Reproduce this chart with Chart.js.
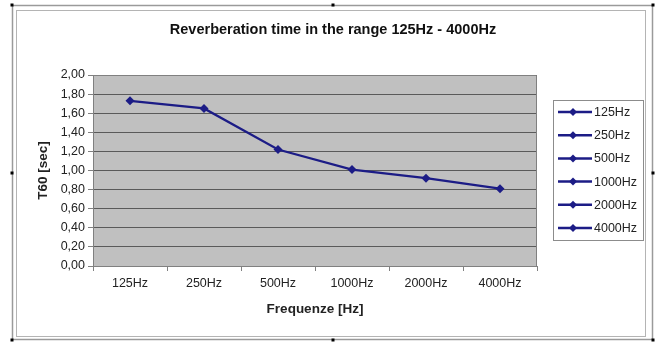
<!DOCTYPE html>
<html>
<head>
<meta charset="utf-8">
<script src="https://cdn.jsdelivr.net/npm/chart.js@4.4.1/dist/chart.umd.min.js"></script>
<style>
html,body{margin:0;padding:0;background:#fff;}
canvas{display:block;}
</style>
</head>
<body>
<canvas id="chart" width="659" height="342"></canvas>
<script>
// ---------- DATA ----------
const bands = ["125Hz","250Hz","500Hz","1000Hz","2000Hz","4000Hz"];
const t60 = [1.73,1.65,1.22,1.01,0.92,0.81];
const yTicks = [0,0.2,0.4,0.6,0.8,1.0,1.2,1.4,1.6,1.8,2.0];

const lineColor = "#1c1c86";
const fontFamily = "'Liberation Sans', Arial, sans-serif";

// ---------- FRAME + PLOT BACKGROUND ----------
const framePlugin = {
id:"frame",
beforeDraw(chart){
const c = chart.ctx;
c.save();
c.fillStyle="#fff";
c.fillRect(0,0,chart.width,chart.height);
// outer selection border
c.strokeStyle="#9a9a9a";
c.lineWidth=1.5;
c.strokeRect(12.5,5.5,640,334);
// chart border
c.strokeStyle="#b4b4b4";
c.lineWidth=1;
c.strokeRect(16.5,10.5,629,326);
// selection handles
c.fillStyle="#000";
[[12,5],[333,5],[653,5],[12,173],[653,173],[12,340],[333,340],[653,340]].forEach(p=>{
c.fillRect(p[0]-1.5,p[1]-1.5,3,3);
});
const a = chart.chartArea;
c.fillStyle="#c0c0c0";
c.fillRect(a.left,a.top,a.right-a.left,a.bottom-a.top);
c.restore();
},
afterDatasetsDraw(chart){
const c = chart.ctx;
const a = chart.chartArea;
c.save();
c.strokeStyle="#808080";
c.lineWidth=1;
c.beginPath();
c.moveTo(a.left,a.top+0.5);
c.lineTo(a.right-0.5,a.top+0.5);
c.lineTo(a.right-0.5,a.bottom);
c.stroke();
c.restore();
}
};

// ---------- LEGEND ----------
const legendPlugin = {
id:"bandLegend",
afterDraw(chart){
const c = chart.ctx;
const x = 553.5, y = 100.5, w = 90, h = 140;
c.save();
c.fillStyle="#fff";
c.fillRect(x,y,w,h);
c.strokeStyle="#8c8c8c";
c.lineWidth=1;
c.strokeRect(x,y,w,h);
c.font="12.5px "+fontFamily;
c.textBaseline="middle";
chart.data.labels.forEach((lab,i)=>{
const ly = 112 + i*23.2;
c.strokeStyle=lineColor;
c.lineWidth=2.5;
c.beginPath();
c.moveTo(558,ly);
c.lineTo(592,ly);
c.stroke();
c.fillStyle=lineColor;
c.beginPath();
c.moveTo(573,ly-4);
c.lineTo(577,ly);
c.lineTo(573,ly+4);
c.lineTo(569,ly);
c.closePath();
c.fill();
c.fillStyle="#222";
c.fillText(lab,594,ly+0.5);
});
c.restore();
}
};

// ---------- CHART ----------
const ctx = document.getElementById("chart").getContext("2d");

const chart = new Chart(ctx,{
type:"line",
data:{
labels:bands,
datasets:[
{
label:"T60",
data:t60,
borderColor:lineColor,
backgroundColor:lineColor,
borderWidth:2.2,
pointStyle:"rectRot",
pointRadius:4.5,
pointBorderWidth:0,
tension:0
}
]
},
options:{
responsive:false,
animation:false,
devicePixelRatio:1,
layout:{padding:{left:32,right:25,top:14,bottom:20}},
plugins:{
legend:{display:false},
tooltip:{enabled:false},
title:{
display:true,
text:"Reverberation time in the range 125Hz - 4000Hz",
color:"#111",
font:{family:fontFamily,size:14.5,weight:"bold"},
padding:{top:7.3,bottom:36.3}
}
},
scales:{
x:{
offset:true,
grid:{display:true,drawOnChartArea:false,offset:true,tickLength:5,tickColor:"#808080"},
border:{display:true,color:"#808080"},
ticks:{color:"#222",padding:5.5,font:{family:fontFamily,size:12.5},maxRotation:0},
title:{display:true,text:"Frequenze [Hz]",color:"#222",font:{family:fontFamily,size:13.5,weight:"bold"},padding:{top:4,bottom:4.9}},
afterFit(s){s.height=342-20-266;}
},
y:{
min:0,
max:2,
afterBuildTicks(s){s.ticks=yTicks.map(v=>({value:v}));},
grid:{color:"#5a5a5a",lineWidth:1,tickLength:5,tickColor:"#808080"},
border:{display:true,color:"#808080"},
ticks:{
color:"#222",
padding:3,
font:{family:fontFamily,size:12.5},
callback:v=>v.toFixed(2).replace(".",",")
},
title:{display:true,text:"T60 [sec]",color:"#222",font:{family:fontFamily,size:13.5,weight:"bold"},padding:{top:3,bottom:3}},
afterFit(s){s.width=93-32;}
},
// empty right-hand axis that keeps the legend column free
side:{
position:"right",
min:0,
max:1,
grid:{display:false},
border:{display:false},
ticks:{display:false},
afterFit(s){s.width=634-537;}
}
}
},
plugins:[framePlugin,legendPlugin]
});
</script>
</body>
</html>
